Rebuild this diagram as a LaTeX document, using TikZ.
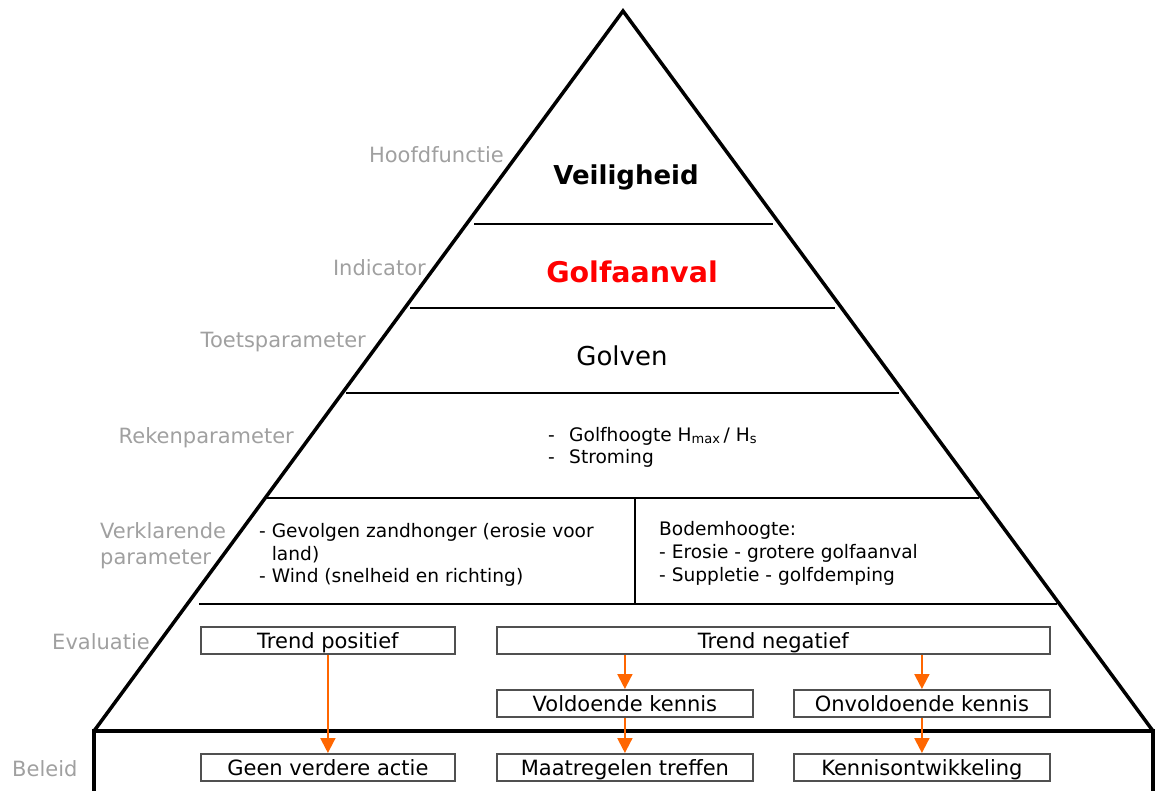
\documentclass[tikz,border=0pt]{standalone}
\usepackage{fontspec}
\setmainfont{DejaVu Sans}
\usetikzlibrary{arrows.meta}
\definecolor{lbl}{RGB}{160,160,160}
\definecolor{boxgray}{RGB}{80,80,80}
\definecolor{arr}{RGB}{255,102,0}
\begin{document}
\begin{tikzpicture}[x=1pt,y=-1pt,
  sidelabel/.style={text=lbl,font=\fontsize{21}{25}\selectfont,inner sep=0},
  sepline/.style={line width=2pt},
  evalbox/.style={draw=boxgray,line width=1.8pt,inner xsep=0pt,inner ysep=0pt,text height=22pt,text depth=5pt,font=\fontsize{21}{25}\selectfont,anchor=north west},
  body/.style={font=\fontsize{18.6}{22}\selectfont,inner sep=0pt,anchor=base west},
  arrowline/.style={draw=arr,line width=2pt,-{Triangle[length=15pt,width=15pt]}}
]
\useasboundingbox (0,0) rectangle (1159,790);
% pyramid
\coordinate (apex) at (623,11);
\coordinate (bl) at (94,731);
\coordinate (br) at (1153,731);
\draw[line width=3.5pt,line join=miter] (bl) -- (apex) -- (br);
\draw[line width=4pt] (94,795) -- (bl) -- (br) -- (1153,795);
% separators
\draw[sepline] (474,224) -- (773,224);
\draw[sepline] (410,308) -- (835,308);
\draw[sepline] (346,393) -- (899,393);
\draw[sepline] (264,498) -- (979,498);
\draw[sepline] (199,604) -- (1057,604);
\draw[sepline] (635,498) -- (635,604);
% side labels
\node[sidelabel,anchor=base east] (l1) at (504,162) {Hoofdfunctie};
\node[sidelabel,anchor=base east] (l2) at (426,275) {Indicator};
\node[sidelabel,anchor=base east] (l3) at (366,347) {Toetsparameter};
\node[sidelabel,anchor=base east] (l4) at (294,443) {Rekenparameter};
\node[sidelabel,anchor=base west] (l5a) at (100,538) {Verklarende};
\node[sidelabel,anchor=base west] (l5b) at (100,564) {parameter};
\node[sidelabel,anchor=base east] (l6) at (150,649) {Evaluatie};
\node[sidelabel,anchor=base west] (l7) at (12,776) {Beleid};
% main texts
\node[font=\bfseries\fontsize{26}{30}\selectfont,inner sep=0pt,anchor=base] (veil) at (626,184) {Veiligheid};
\node[font=\bfseries\fontsize{28.5}{32}\selectfont,text=red,inner sep=0pt,anchor=base] (golf) at (632,282) {Golfaanval};
\node[font=\fontsize{26}{30}\selectfont,inner sep=0pt,anchor=base] (golven) at (622,365) {Golven};
\node[body] (r1) at (548,441) {\makebox[21pt][l]{-}Golfhoogte H\textsubscript{max}\,/ H\textsubscript{s}};
\node[body] (r2) at (548,463) {\makebox[21pt][l]{-}Stroming};
\node[body] (v1) at (259,537) {- Gevolgen zandhonger (erosie voor};
\node[body] (v2) at (259,560) {\phantom{- }land)};
\node[body] (v3) at (259,582) {- Wind (snelheid en richting)};
\node[body] (b1) at (659,535) {Bodemhoogte:};
\node[body] (b2) at (659,558) {- Erosie - grotere golfaanval};
\node[body] (b3) at (659,581) {- Suppletie - golfdemping};
% boxes
\node[evalbox,minimum width=254pt] (tp) at (200,626) {Trend positief};
\node[evalbox,minimum width=553pt] (tn) at (496,626) {Trend negatief};
\node[evalbox,minimum width=256pt] (vk) at (496,689) {Voldoende kennis};
\node[evalbox,minimum width=256pt] (ok) at (793,689) {Onvoldoende kennis};
\node[evalbox,minimum width=254pt] (gva) at (200,753) {Geen verdere actie};
\node[evalbox,minimum width=256pt] (mt) at (496,753) {Maatregelen treffen};
\node[evalbox,minimum width=256pt] (ko) at (793,753) {Kennisontwikkeling};
% arrows
\draw[arrowline] (tp.south) -- (gva.north);
\draw[arrowline] (tn.south -| vk.north) -- (vk.north);
\draw[arrowline] (tn.south -| ok.north) -- (ok.north);
\draw[arrowline] (vk.south) -- (mt.north);
\draw[arrowline] (ok.south) -- (ko.north);
\end{tikzpicture}
\end{document}
